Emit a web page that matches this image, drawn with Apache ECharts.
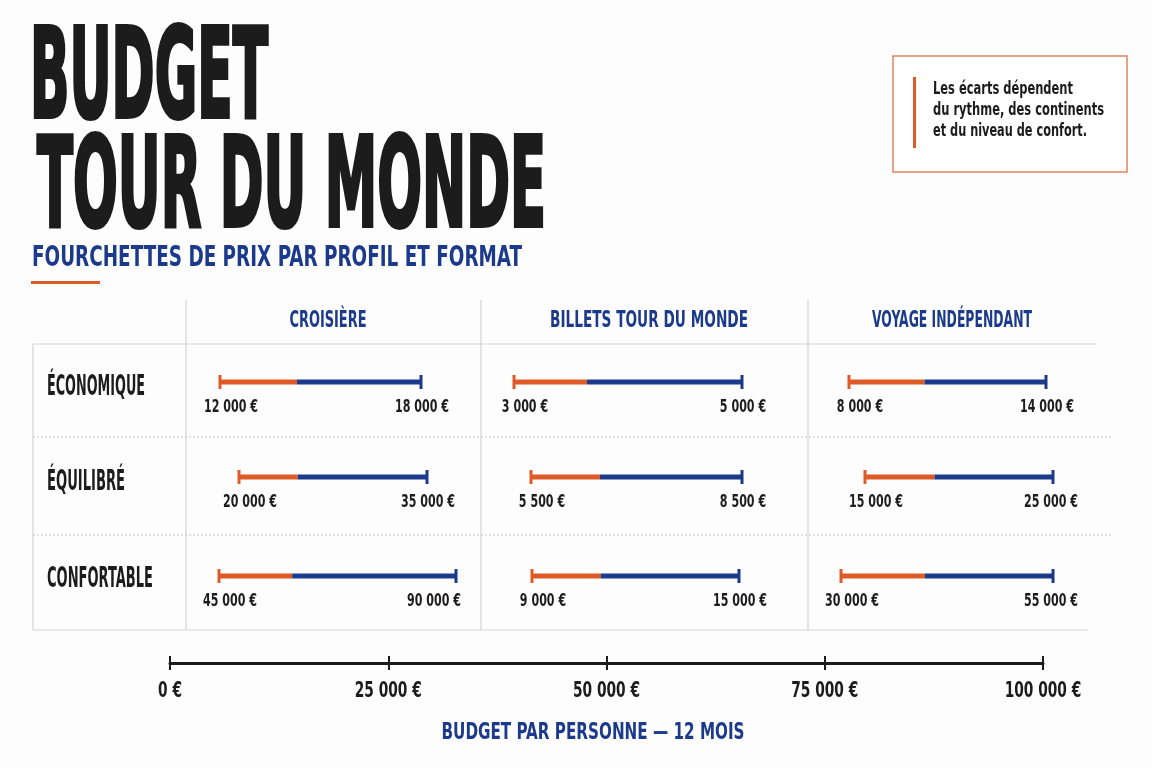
<!DOCTYPE html>
<html>
<head>
<meta charset="utf-8">
<title>Budget tour du monde</title>
<script src="https://cdn.jsdelivr.net/npm/echarts@6/dist/echarts.min.js"></script>
<style>
  html, body { margin: 0; padding: 0; background: #fdfdfd; }
  #chart { width: 1152px; height: 768px; }
</style>
</head>
<body>
<div id="chart"></div>
<script>
// données
var profils = ["ÉCONOMIQUE", "ÉQUILIBRÉ", "CONFORTABLE"];
var formats = ["CROISIÈRE", "BILLETS TOUR DU MONDE", "VOYAGE INDÉPENDANT"];
// une ligne par profil, une colonne par format
var budgetBas = [[12000, 3000, 8000], [20000, 5500, 15000], [45000, 9000, 30000]];
var budgetHaut = [[18000, 5000, 14000], [35000, 8500, 25000], [90000, 15000, 55000]];
var finOrange = [[14300, 3640, 10300], [24700, 6480, 18700], [58900, 11000, 39900]];
var axeTicks = [0, 25000, 50000, 75000, 100000];
var titre = ["BUDGET", "TOUR DU MONDE"];
var sousTitre = "FOURCHETTES DE PRIX PAR PROFIL ET FORMAT";
var noteLignes = ["Les écarts dépendent", "du rythme, des continents", "et du niveau de confort."];
var axeTitre = "BUDGET PAR PERSONNE — 12 MOIS";

var ORANGE = "#de5a26", NAVY = "#1c3a8c", INK = "#1c1c1c", LINE = "#d4d4d4";
var FONT = '"Liberation Sans Narrow", "DejaVu Sans Condensed", "Liberation Sans", sans-serif';

// mise en page (px)
var barY = [382, 477, 576];
var barX0 = [[220, 514, 849], [239, 531, 865], [219, 532, 841]];
var barX1 = [[421, 742, 1046], [427, 742, 1053], [456, 739, 1053]];
var colX = [186, 481, 808];
var colRight = [481, 808, 1098];
var colCenter = [328, 649, 952];
var colWidth = [77, 198, 160];
var rowLabelY = [388, 483, 580];
var rowLabelW = [98, 78, 106];

function euro(v) {
  return String(v).replace(/\B(?=(\d{3})+(?!\d))/g, " ") + " €";
}

var ctx = document.createElement("canvas").getContext("2d");
function textWidth(txt, size) {
  ctx.font = "bold " + size + "px " + FONT;
  return ctx.measureText(txt).width;
}
function squeeze(txt, size, w) {
  return w / textWidth(txt, size);
}
// texte étiré à une largeur donnée
function fitText(txt, x, y, w, size, color, align, stroke) {
  var st = { text: txt, x: 0, y: 0, font: "bold " + size + "px " + FONT, fill: color,
             textAlign: align || "left", textVerticalAlign: "middle" };
  if (stroke) { st.stroke = color; st.lineWidth = stroke; }
  return { type: "text", x: x, y: y, scaleX: squeeze(txt, size, w), style: st, silent: true };
}

var LAB_SIZE = 17, LAB_SCALE = squeeze("12 000 €", 17, 54);
var TICK_SIZE = 22, TICK_SCALE = squeeze("25 000 €", 22, 67);

function valueText(v, x, y, size, scale) {
  return { type: "text", x: x, y: y, scaleX: scale,
           style: { text: euro(v), x: 0, y: 0, font: "bold " + size + "px " + FONT, fill: INK,
                    textAlign: "center", textVerticalAlign: "middle" } };
}

function renderRange(params, api) {
  var lo = api.coord([api.value(0), api.value(3)]);
  var hi = api.coord([api.value(1), api.value(3)]);
  var mid = api.coord([api.value(2), api.value(3)]);
  // le libellé haut reste dans sa case
  var half = textWidth(euro(api.value(1)), LAB_SIZE) * LAB_SCALE / 2;
  var hx = Math.min(hi[0] + 1, colRight[params.seriesIndex % 3] - 20 - half);
  return {
    type: "group",
    children: [
      { type: "line", shape: { x1: lo[0], y1: lo[1], x2: mid[0], y2: mid[1] }, style: { stroke: ORANGE, lineWidth: 5 } },
      { type: "line", shape: { x1: mid[0], y1: mid[1], x2: hi[0], y2: hi[1] }, style: { stroke: NAVY, lineWidth: 5 } },
      { type: "line", shape: { x1: lo[0], y1: lo[1] - 7, x2: lo[0], y2: lo[1] + 7 }, style: { stroke: ORANGE, lineWidth: 3 } },
      { type: "line", shape: { x1: hi[0], y1: hi[1] - 7, x2: hi[0], y2: hi[1] + 7 }, style: { stroke: NAVY, lineWidth: 3 } },
      valueText(api.value(0), lo[0] + 11, lo[1] + 26, LAB_SIZE, LAB_SCALE),
      valueText(api.value(1), hx, hi[1] + 26, LAB_SIZE, LAB_SCALE)
    ]
  };
}

function renderTick(params, api) {
  var p = api.coord([api.value(0), api.value(1)]);
  return valueText(api.value(0), p[0], p[1] + 28, TICK_SIZE, TICK_SCALE);
}

var grid = [], xAxis = [], yAxis = [], series = [];
profils.forEach(function (p, r) {
  formats.forEach(function (f, c) {
    var i = grid.length;
    grid.push({ left: barX0[r][c], width: barX1[r][c] - barX0[r][c], top: barY[r] - 10, height: 20 });
    xAxis.push({ gridIndex: i, type: "value", min: budgetBas[r][c], max: budgetHaut[r][c], show: false });
    yAxis.push({ gridIndex: i, type: "value", min: 0, max: 1, show: false });
    series.push({
      type: "custom",
      name: p + " / " + f,
      xAxisIndex: i,
      yAxisIndex: i,
      silent: true,
      encode: { x: [0, 1, 2], y: 3 },
      renderItem: renderRange,
      data: [[budgetBas[r][c], budgetHaut[r][c], finOrange[r][c], 0.5]]
    });
  });
});

// axe global du bas
var ga = grid.length;
grid.push({ left: 170, right: 109, top: 640, height: 23 });
var axeBase = {
  gridIndex: ga,
  type: "value",
  position: "bottom",
  min: axeTicks[0],
  max: axeTicks[axeTicks.length - 1],
  interval: axeTicks[1] - axeTicks[0],
  axisLabel: { show: false },
  splitLine: { show: false }
};
xAxis.push(echarts.util.merge({
  axisLine: { show: true, onZero: false, lineStyle: { color: INK, width: 3 } },
  axisTick: { show: true, length: 7, lineStyle: { color: INK, width: 2 } }
}, axeBase));
xAxis.push(echarts.util.merge({
  axisLine: { show: false, onZero: false },
  axisTick: { show: true, inside: true, length: 7, lineStyle: { color: INK, width: 2 } }
}, axeBase));
yAxis.push({ gridIndex: ga, type: "value", min: 0, max: 1, show: false });
// libellés des graduations
series.push({
  type: "custom",
  name: "graduations",
  xAxisIndex: xAxis.length - 2,
  yAxisIndex: ga,
  silent: true,
  encode: { x: 0, y: 1 },
  renderItem: renderTick,
  data: axeTicks.map(function (v) { return [v, 0]; })
});

// décor : titres, tableau, encadré
var graphic = [];
graphic.push(fitText(titre[0], 30, 85, 238, 124, INK, "left", 4));
graphic.push(fitText(titre[1], 37, 194, 509, 124, INK, "left", 4));
graphic.push(fitText(sousTitre, 32, 259, 490, 28, NAVY, "left"));
graphic.push({ type: "rect", shape: { x: 31, y: 281, width: 69, height: 3 }, style: { fill: ORANGE }, silent: true });

graphic.push({ type: "rect", shape: { x: 893, y: 56, width: 234, height: 116 }, style: { fill: "#ffffff", stroke: "#e08260", lineWidth: 1.5 }, silent: true });
graphic.push({ type: "rect", shape: { x: 913, y: 77, width: 3, height: 71 }, style: { fill: ORANGE }, silent: true });
var noteW = [140, 171, 154];
noteLignes.forEach(function (t, k) {
  graphic.push(fitText(t, 933, 90 + k * 21, noteW[k], 17, INK, "left"));
});

function seg(x1, y1, x2, y2, dash) {
  return { type: "line", shape: { x1: x1, y1: y1, x2: x2, y2: y2 }, silent: true,
           style: { stroke: dash ? "#cfcfcf" : LINE, lineWidth: 1.2, lineDash: dash ? [2, 2] : null } };
}
colX.forEach(function (x) { graphic.push(seg(x, 300, x, 630)); });
graphic.push(seg(33, 344, 33, 630));
graphic.push(seg(33, 344, 1097, 344));
graphic.push(seg(33, 630, 1088, 630));
graphic.push(seg(33, 437, 1112, 437, true));
graphic.push(seg(33, 535, 1112, 535, true));

formats.forEach(function (f, c) {
  graphic.push(fitText(f, colCenter[c], 321, colWidth[c], 23, NAVY, "center"));
});
profils.forEach(function (p, r) {
  graphic.push(fitText(p, 47, rowLabelY[r], rowLabelW[r], 28, INK, "left"));
});
graphic.push(fitText(axeTitre, 593, 733, 303, 23, NAVY, "center"));

var myChart = echarts.init(document.getElementById("chart"), null, { renderer: "canvas" });
var option = {
  backgroundColor: "#fdfdfd",
  animation: false,
  grid: grid,
  xAxis: xAxis,
  yAxis: yAxis,
  series: series,
  graphic: graphic
};
myChart.setOption(option);
window.addEventListener("resize", function () {
  myChart.resize();
});
</script>
</body>
</html>
